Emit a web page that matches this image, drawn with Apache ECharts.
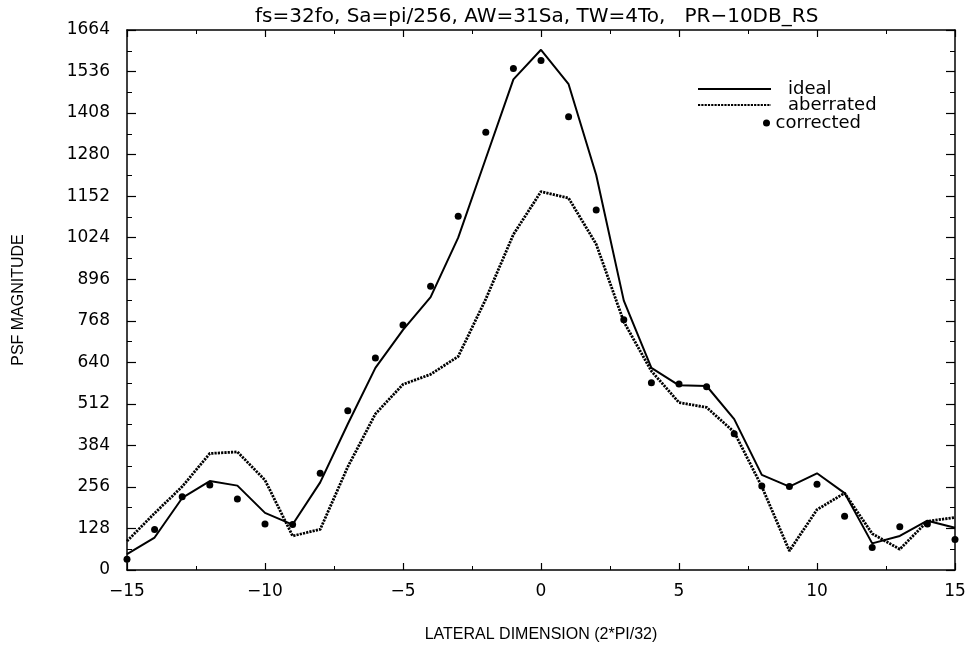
<!DOCTYPE html>
<html>
<head>
<meta charset="utf-8">
<script src="https://cdn.jsdelivr.net/npm/echarts@6/dist/echarts.min.js"></script>
<style>
html,body{margin:0;padding:0;background:#fff;}
#c{width:970px;height:648px;}
</style>
</head>
<body>
<div id="c"></div>
<script>
// lateral position (2*PI/32 units)
var xs = [-15,-14,-13,-12,-11,-10,-9,-8,-7,-6,-5,-4,-3,-2,-1,0,1,2,3,4,5,6,7,8,9,10,11,12,13,14,15];
// PSF magnitude, ideal
var ideal = [49,100,222,274,260,176,140,270,450,623,740,841,1024,1268,1512,1603,1497,1217,830,623,569,567,465,293,257,298,237,82,105,152,130];
// PSF magnitude, aberrated
var aberrated = [89,175,257,359,364,277,105,125,318,481,572,603,658,835,1034,1166,1146,1004,765,613,516,501,425,257,59,186,237,112,64,150,162];
// PSF magnitude, corrected
var corrected = [33,125,226,262,219,142,140,298,491,653,755,874,1090,1349,1545,1570,1397,1109,771,577,573,565,420,259,257,264,166,69,133,142,94];

var titleText = 'fs=32fo, Sa=pi/256, AW=31Sa, TW=4To,   PR\u221210DB_RS';
var xName = 'LATERAL DIMENSION (2*PI/32)';
var yName = 'PSF MAGNITUDE';

function pairs(ys){ return xs.map(function(x,i){ return [x, ys[i]]; }); }

var FONT = 'DejaVu Sans';
var black = '#000';
function ax(extra){
  return Object.assign({
    type: 'value',
    axisLine: {show: true, onZero: false, lineStyle: {color: black, width: 1.5}},
    splitLine: {show: false}
  }, extra);
}

var chart = echarts.init(document.getElementById('c'), null, {renderer: 'canvas'});
chart.setOption({
  animation: false,
  backgroundColor: '#fff',
  title: {
    text: titleText, left: 250, top: 2,
    textStyle: {fontFamily: FONT, fontSize: 20, fontWeight: 'normal', color: black}
  },
  grid: {left: 127, right: 15, top: 30, bottom: 72},
  legend: [
    {
      data: ['ideal', 'aberrated'], orient: 'vertical', left: 692, top: 75,
      itemWidth: 73, itemHeight: 14, itemGap: -2,
      itemStyle: {opacity: 0},
      textStyle: {fontFamily: FONT, fontSize: 18, color: black, lineHeight: 14, padding: [0, 0, 0, 12]}
    },
    {
      data: ['corrected'], orient: 'vertical', left: 758, top: 109,
      itemWidth: 8, itemHeight: 7, itemGap: 1,
      itemStyle: {opacity: 1},
      textStyle: {fontFamily: FONT, fontSize: 18, color: black, lineHeight: 14}
    }
  ],
  xAxis: [
    ax({
      min: -15, max: 15, interval: 5, position: 'bottom',
      axisTick: {show: true, inside: true, length: 7, lineStyle: {color: black, width: 1.2}},
      minorTick: {show: true, splitNumber: 2, length: 4, lineStyle: {color: black, width: 1}},
      axisLabel: {
        margin: 13, fontFamily: FONT, fontSize: 17, color: black,
        formatter: function(v){ return String(v).replace('-', '\u2212'); }
      },
      name: xName, nameLocation: 'middle', nameGap: 57,
      nameTextStyle: {fontFamily: 'Liberation Sans', fontSize: 16, color: black}
    }),
    ax({
      min: -15, max: 15, interval: 5, position: 'top',
      axisTick: {show: true, inside: true, length: 7, lineStyle: {color: black, width: 1.2}},
      minorTick: {show: true, splitNumber: 2, length: 4, lineStyle: {color: black, width: 1}},
      axisLabel: {show: false}
    })
  ],
  yAxis: [
    ax({
      min: 0, max: 1664, interval: 128, position: 'left',
      axisTick: {show: true, inside: true, length: 9, lineStyle: {color: black, width: 1.2}},
      minorTick: {show: true, splitNumber: 2, length: 5, lineStyle: {color: black, width: 1}},
      axisLabel: {margin: 17, fontFamily: FONT, fontSize: 17, color: black,
        formatter: function(v){ return String(v); }},
      name: yName, nameLocation: 'middle', nameGap: 100, nameRotate: 90,
      nameTextStyle: {fontFamily: 'Liberation Sans', fontSize: 16, color: black}
    }),
    ax({
      min: 0, max: 1664, interval: 128, position: 'right',
      axisTick: {show: true, inside: true, length: 9, lineStyle: {color: black, width: 1.2}},
      minorTick: {show: true, splitNumber: 2, length: 5, lineStyle: {color: black, width: 1}},
      axisLabel: {show: false}
    })
  ],
  series: [
    {
      name: 'ideal', type: 'line', data: pairs(ideal), symbol: 'none',
      color: black, lineStyle: {color: black, width: 2}, z: 3
    },
    {
      name: 'aberrated', type: 'line', data: pairs(aberrated), symbol: 'none',
      color: black, lineStyle: {color: black, width: 2.8, type: [2.2, 1.1]}, z: 2
    },
    {
      name: 'corrected', type: 'scatter', data: pairs(corrected), symbol: 'circle',
      symbolSize: 7, itemStyle: {color: black, opacity: 1}, z: 4
    }
  ]
});
</script>
</body>
</html>
